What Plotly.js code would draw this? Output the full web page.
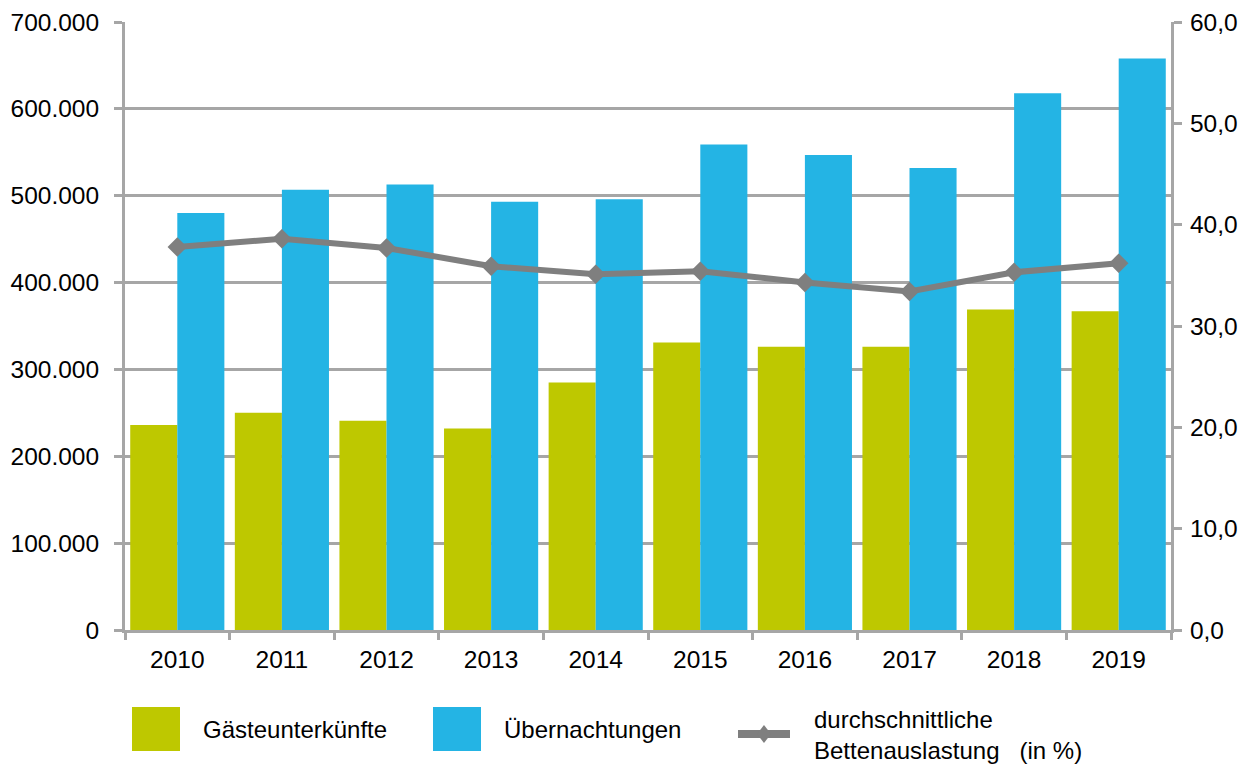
<!DOCTYPE html>
<html>
<head>
<meta charset="utf-8">
<script src="https://cdn.plot.ly/plotly-3.0.1.min.js"></script>
<style>html,body{margin:0;padding:0;background:#fff;}#chart{width:1250px;height:764px;}</style>
</head>
<body>
<div id="chart"></div>
<script>
const years = ['2010','2011','2012','2013','2014','2015','2016','2017','2018','2019'];
const gaeste = [236000, 250000, 241000, 232000, 285000, 331000, 326000, 326000, 369000, 367000];
const uebernachtungen = [480000, 507000, 513000, 493000, 496000, 559000, 547000, 532000, 618000, 658000];
const auslastung = [37.8, 38.6, 37.7, 35.9, 35.1, 35.4, 34.3, 33.4, 35.3, 36.2];
const legendLabels = ['Gästeunterkünfte', 'Übernachtungen', 'durchschnittliche<br>Bettenauslastung   (in %)'];

const GREEN = '#bec800', BLUE = '#24b4e4', LINE = '#7f7f7f', GRID = '#a6a6a6';
const FONT = 'Liberation Sans, Arial, sans-serif';
const FS = 24.5;

// plot area in pixels
const L = 125, R = 1171, T = 22, B = 630;
const px = x => (x - L) / (R - L);
const py = y => (B - y) / (B - T);

const traces = [
  {type: 'bar', x: years, y: gaeste, name: legendLabels[0], marker: {color: GREEN}, yaxis: 'y'},
  {type: 'bar', x: years, y: uebernachtungen, name: legendLabels[1], marker: {color: BLUE}, yaxis: 'y'},
  {type: 'scatter', mode: 'lines+markers', x: years, y: auslastung, name: legendLabels[2], yaxis: 'y2',
   line: {color: LINE, width: 6}, marker: {symbol: 'diamond', size: 15, color: LINE}}
];

const dx = 7;
const layout = {
  width: 1250, height: 764,
  margin: {l: L, r: 1250 - R, t: T, b: 764 - B, autoexpand: false},
  paper_bgcolor: '#fff', plot_bgcolor: '#fff',
  separators: ',.',
  showlegend: false,
  barmode: 'group', bargap: 0.1, bargroupgap: 0,
  font: {family: FONT, size: FS, color: '#000'},
  xaxis: {
    type: 'category', range: [-0.5, years.length - 0.5],
    tickson: 'boundaries', ticks: 'outside', ticklen: 7, tickwidth: 3, tickcolor: GRID,
    showline: true, linecolor: GRID, linewidth: 3, showgrid: false, automargin: false,
    ticklabelstandoff: 6,
    tickfont: {family: FONT, size: FS, color: '#000'}
  },
  yaxis: {
    range: [0, 700000], dtick: 100000, tickformat: ',.0f',
    ticks: 'outside', ticklen: 8, tickwidth: 3, tickcolor: GRID,
    showline: true, linecolor: GRID, linewidth: 3, automargin: false, ticklabelstandoff: 10,
    showgrid: true, gridcolor: GRID, gridwidth: 3, zeroline: false,
    tickfont: {family: FONT, size: FS, color: '#000'}
  },
  yaxis2: {
    overlaying: 'y', side: 'right', range: [0, 60], dtick: 10, tickformat: '.1f',
    ticks: 'outside', ticklen: 8, tickwidth: 3, tickcolor: GRID, automargin: false, ticklabelstandoff: 3,
    showline: true, linecolor: GRID, linewidth: 3, showgrid: false, zeroline: false,
    tickfont: {family: FONT, size: FS, color: '#000'}
  },
  shapes: [
    {type: 'rect', xref: 'paper', yref: 'paper', x0: px(132), x1: px(180), y0: py(751), y1: py(707), fillcolor: GREEN, line: {width: 0}},
    {type: 'rect', xref: 'paper', yref: 'paper', x0: px(433), x1: px(481), y0: py(751), y1: py(707), fillcolor: BLUE, line: {width: 0}},
    {type: 'line', xref: 'paper', yref: 'paper', x0: px(738), x1: px(790), y0: py(734), y1: py(734), line: {color: LINE, width: 8}},
    {type: 'path', xref: 'paper', yref: 'paper',
     path: `M ${px(764-dx)} ${py(734)} L ${px(764)} ${py(734-dx-2)} L ${px(764+dx)} ${py(734)} L ${px(764)} ${py(734+dx+2)} Z`,
     fillcolor: LINE, line: {width: 0}}
  ],
  annotations: [
    {xref: 'paper', yref: 'paper', x: px(201), y: py(729), xanchor: 'left', yanchor: 'middle', text: legendLabels[0], showarrow: false, font: {family: FONT, size: 24}},
    {xref: 'paper', yref: 'paper', x: px(502), y: py(729), xanchor: 'left', yanchor: 'middle', text: legendLabels[1], showarrow: false, font: {family: FONT, size: 24}},
    {xref: 'paper', yref: 'paper', x: px(812), y: py(735), xanchor: 'left', yanchor: 'middle', align: 'left', text: legendLabels[2], showarrow: false, font: {family: FONT, size: 24}}
  ]
};

Plotly.newPlot('chart', traces, layout, {displayModeBar: false, staticPlot: true});
</script>
</body>
</html>
